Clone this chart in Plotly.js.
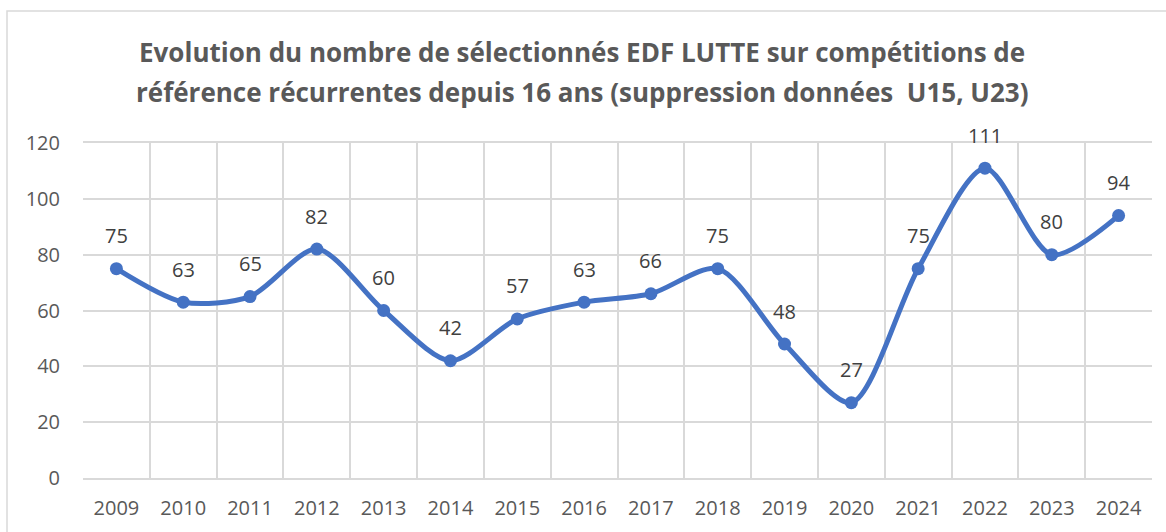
<!DOCTYPE html>
<html>
<head>
<meta charset="utf-8">
<script src="https://cdn.plot.ly/plotly-3.0.1.min.js"></script>
<style>html,body{margin:0;padding:0;background:#fff;}#chart{width:1166px;height:532px;}</style>
</head>
<body>
<div id="chart"></div>
<script>
const years = ["2009","2010","2011","2012","2013","2014","2015","2016","2017","2018","2019","2020","2021","2022","2023","2024"];
const selected = [75,63,65,82,60,42,57,63,66,75,48,27,75,111,80,94];
const yTicks = [0,20,40,60,80,100,120];
const titleLines = [
  "Evolution du nombre de sélectionnés EDF LUTTE sur compétitions de",
  "référence récurrentes depuis 16 ans (suppression données  U15, U23)"
];

const FONT = "Open Sans, sans-serif";

const trace = {
  x: years,
  y: selected,
  type: "scatter",
  mode: "lines+markers",
  line: {color: "#4472C4", width: 5, shape: "spline", smoothing: 0.8},
  marker: {color: "#4472C4", size: 13},
  hoverinfo: "x+y",
  cliponaxis: false
};

const labelAnn = years.map((yr, i) => ({
  x: i, y: selected[i], xref: "x", yref: "y",
  text: String(selected[i]), showarrow: false, yshift: 33,
  font: {family: FONT, size: 20, color: "#404040"}
}));

const titleAnn = titleLines.map((t, i) => ({
  x: 0.467, xref: "paper", xanchor: "center",
  y: [1.272, 1.152][i], yref: "paper", yanchor: "middle",
  text: "<b>" + t + "</b>", showarrow: false,
  font: {family: FONT, size: 26, color: "#595959"}
}));

const layout = {
  width: 1166, height: 532,
  margin: {l: 83, r: 14, t: 143, b: 54},
  paper_bgcolor: "#ffffff", plot_bgcolor: "#ffffff",
  showlegend: false,
  xaxis: {
    type: "category",
    tickson: "boundaries",
    showgrid: true, gridcolor: "#d9d9d9", gridwidth: 1.5,
    showline: true, linecolor: "#d9d9d9", linewidth: 1.5, mirror: true,
    ticks: "", zeroline: false,
    ticklabelstandoff: 11,
    tickfont: {family: FONT, size: 20, color: "#595959"},
    range: [-0.5, 15.5], fixedrange: true
  },
  yaxis: {
    range: [0, 120], tickvals: yTicks,
    showgrid: true, gridcolor: "#d9d9d9", gridwidth: 1.5,
    showline: false, zeroline: false, ticks: "",
    ticklabelstandoff: 22,
    tickfont: {family: FONT, size: 20, color: "#595959"},
    fixedrange: true
  },
  annotations: titleAnn.concat(labelAnn),
  shapes: [{
    type: "rect", xref: "paper", yref: "paper",
    x0: -0.0711, x1: 1.05, y0: -0.3, y1: 1.394,
    line: {color: "#d9d9d9", width: 1.5}, fillcolor: "rgba(0,0,0,0)", layer: "below"
  }]
};

Plotly.newPlot("chart", [trace], layout, {displayModeBar: false});
</script>
</body>
</html>
